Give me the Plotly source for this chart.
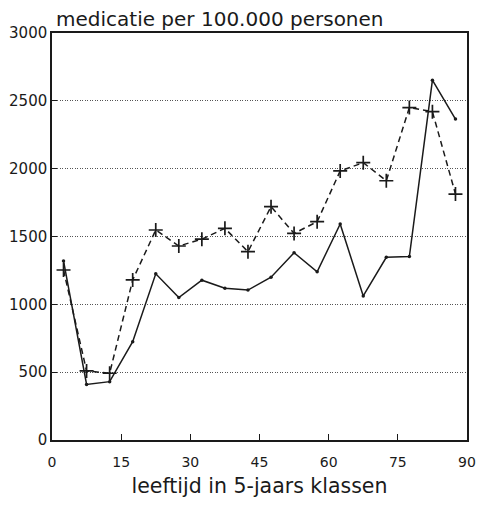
import plotly.graph_objects as go

# age classes (midpoints of 5-year bands)
leeftijd = [2.5, 7.5, 12.5, 17.5, 22.5, 27.5, 32.5, 37.5, 42.5,
            47.5, 52.5, 57.5, 62.5, 67.5, 72.5, 77.5, 82.5, 87.5]

# medication per 100,000 persons
reeks_doorgetrokken = [1320, 410, 430, 725, 1225, 1050, 1178, 1118, 1105,
                       1200, 1380, 1240, 1592, 1062, 1347, 1352, 2652, 2366]
reeks_gestreept = [1253, 509, 492, 1180, 1548, 1430, 1480, 1560, 1388,
                   1720, 1523, 1609, 1983, 2044, 1911, 2450, 2420, 1813]

x_ticks = [0, 15, 30, 45, 60, 75, 90]
y_ticks = [0, 500, 1000, 1500, 2000, 2500, 3000]

FONT = "DejaVu Sans"
INK = "#1a1a1a"

fig = go.Figure()

fig.add_trace(go.Scatter(
    x=leeftijd, y=reeks_doorgetrokken, mode="lines+markers",
    line=dict(color=INK, width=1.5),
    marker=dict(symbol="circle", size=3.5, color=INK),
    showlegend=False,
))

fig.add_trace(go.Scatter(
    x=leeftijd, y=reeks_gestreept, mode="lines+markers",
    line=dict(color=INK, width=1.5, dash="6px,4px"),
    marker=dict(symbol="cross-thin", size=10, line=dict(color=INK, width=1.7)),
    showlegend=False,
))

fig.update_xaxes(
    range=[0, 90], tickvals=x_ticks, ticktext=[str(v) for v in x_ticks],
    ticks="inside", ticklen=6, tickwidth=1.3, tickcolor=INK,
    ticklabelstandoff=8, automargin=False,
    showgrid=False, zeroline=False,
    showline=True, linecolor=INK, linewidth=1.5, mirror=True,
    tickfont=dict(family=FONT, size=14, color=INK),
    title=dict(text="leeftijd in 5-jaars klassen",
               font=dict(family=FONT, size=20.5, color=INK), standoff=10),
)

fig.update_yaxes(
    range=[0, 3000], tickvals=y_ticks, ticktext=[str(v) for v in y_ticks],
    ticks="inside", ticklen=5, tickwidth=1.3, tickcolor=INK,
    automargin=False,
    showgrid=True, gridcolor="#555555", gridwidth=1, griddash="1px,1.5px",
    zeroline=False,
    showline=True, linecolor=INK, linewidth=1.5, mirror=True,
    tickfont=dict(family=FONT, size=15, color=INK),
)

fig.add_annotation(
    text="medicatie per 100.000 personen", xref="paper", yref="paper",
    x=0.0, y=1.0, xanchor="left", yanchor="bottom", yshift=0, xshift=2,
    showarrow=False, font=dict(family=FONT, size=20, color=INK),
)

fig.update_layout(
    width=479, height=506,
    margin=dict(l=52, r=12, t=33, b=66),
    paper_bgcolor="white", plot_bgcolor="white",
)

fig.write_html("out.html")
